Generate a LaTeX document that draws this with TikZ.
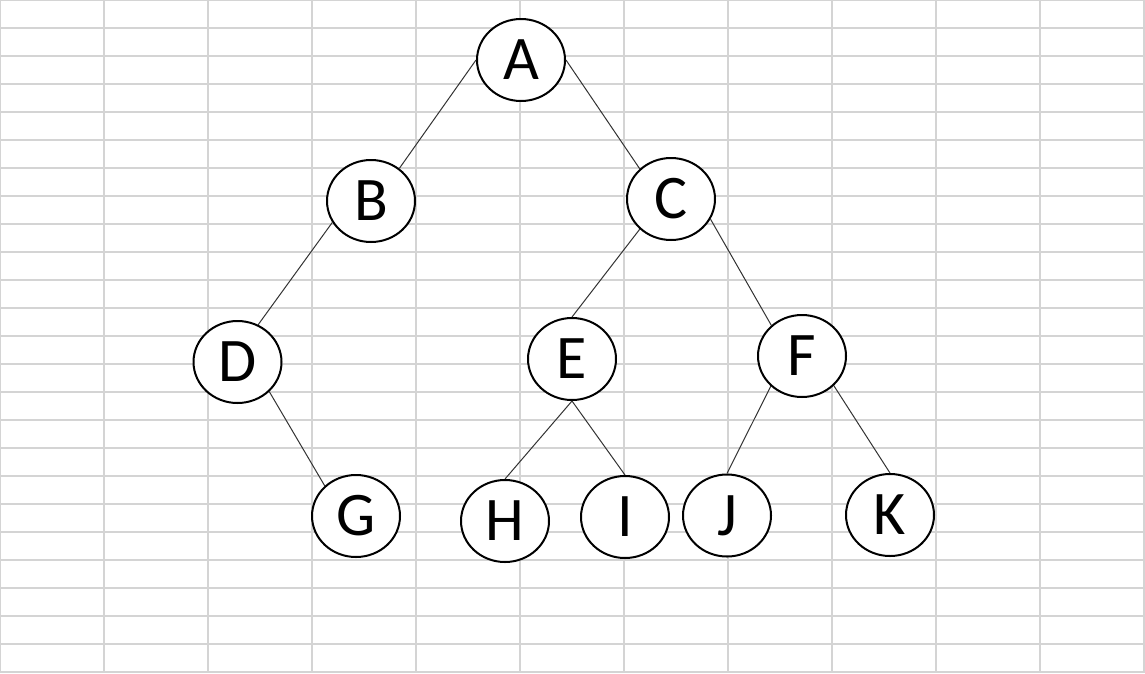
\documentclass[tikz,border=0pt]{standalone}
\usepackage{fontspec}
\setmainfont{Carlito}
\usetikzlibrary{shapes.geometric}
\definecolor{gitter}{HTML}{D4D4D4}
\definecolor{kante}{HTML}{333333}
\tikzset{
    knoten/.style={ellipse, draw, line width=2pt, fill=white,
        minimum width=88pt, minimum height=82pt, inner sep=0pt,
        font=\fontsize{62}{62}\selectfont},
    kante/.style={draw=kante, line width=1pt},
    gitterlinie/.style={draw=gitter, line width=1.3pt}
}
\begin{document}
\begin{tikzpicture}[x=1pt, y=-1pt]
    \useasboundingbox (0,0) rectangle (1145,673);
    \fill[white] (0,0) rectangle (1145,673);

%Gitter
    \foreach \c in {0,1,...,11}{
        \draw[gitterlinie] (\c*104,0) -- (\c*104,673);}
    \foreach \r in {0,1,...,24}{
        \draw[gitterlinie] (0,\r*28) -- (1145,\r*28);}

%Knoten
    \node[knoten] (A) at (521,60) {A};
    \node[knoten] (B) at (371,201) {B};
    \node[knoten] (C) at (671,199) {C};
    \node[knoten] (D) at (237.5,362) {D};
    \node[knoten] (E) at (572,359) {E};
    \node[knoten] (F) at (802,356) {F};
    \node[knoten] (G) at (356,516) {G};
    \node[knoten] (H) at (505,521) {H};
    \node[knoten] (I) at (625,517) {I};
    \node[knoten] (J) at (727,515.5) {J};
    \node[knoten] (K) at (890,515) {K};

%Kanten
    \draw[kante] (A.180) -- (B.49);
    \draw[kante] (A.0) -- (C.136);
    \draw[kante] (B.209) -- (D.61);
    \draw[kante] (C.224) -- (E.north);
    \draw[kante] (C.333) -- (F.135);
    \draw[kante] (D.-43) -- (G.136);
    \draw[kante] (E.south) -- (H.north);
    \draw[kante] (E.south) -- (I.north);
    \draw[kante] (F.224) -- (J.north);
    \draw[kante] (F.-43) -- (K.north);

\end{tikzpicture}
\end{document}
